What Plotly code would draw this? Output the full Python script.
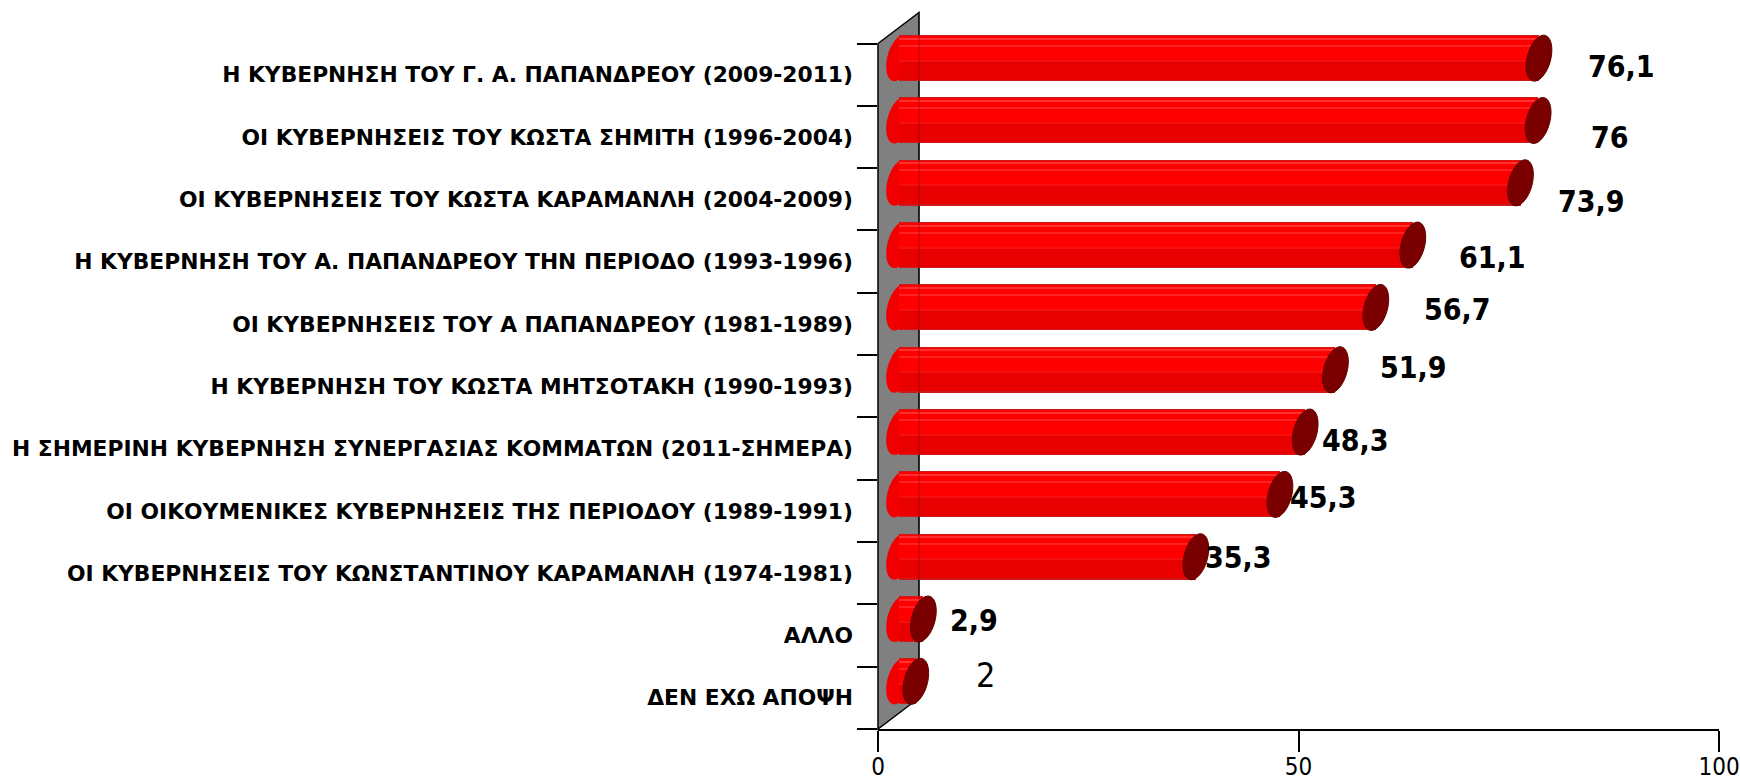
import numpy as np
import plotly.graph_objects as go

# ---------------- data ----------------
categories = [
    "Η ΚΥΒΕΡΝΗΣΗ ΤΟΥ Γ. Α. ΠΑΠΑΝΔΡΕΟΥ (2009-2011)",
    "ΟΙ ΚΥΒΕΡΝΗΣΕΙΣ ΤΟΥ ΚΩΣΤΑ ΣΗΜΙΤΗ (1996-2004)",
    "ΟΙ ΚΥΒΕΡΝΗΣΕΙΣ ΤΟΥ ΚΩΣΤΑ ΚΑΡΑΜΑΝΛΗ (2004-2009)",
    "Η ΚΥΒΕΡΝΗΣΗ ΤΟΥ Α. ΠΑΠΑΝΔΡΕΟΥ ΤΗΝ ΠΕΡΙΟΔΟ (1993-1996)",
    "ΟΙ ΚΥΒΕΡΝΗΣΕΙΣ ΤΟΥ Α ΠΑΠΑΝΔΡΕΟΥ (1981-1989)",
    "Η ΚΥΒΕΡΝΗΣΗ ΤΟΥ ΚΩΣΤΑ ΜΗΤΣΟΤΑΚΗ (1990-1993)",
    "Η ΣΗΜΕΡΙΝΗ ΚΥΒΕΡΝΗΣΗ ΣΥΝΕΡΓΑΣΙΑΣ ΚΟΜΜΑΤΩΝ (2011-ΣΗΜΕΡΑ)",
    "ΟΙ ΟΙΚΟΥΜΕΝΙΚΕΣ ΚΥΒΕΡΝΗΣΕΙΣ ΤΗΣ ΠΕΡΙΟΔΟΥ (1989-1991)",
    "ΟΙ ΚΥΒΕΡΝΗΣΕΙΣ ΤΟΥ ΚΩΝΣΤΑΝΤΙΝΟΥ ΚΑΡΑΜΑΝΛΗ (1974-1981)",
    "ΑΛΛΟ",
    "ΔΕΝ ΕΧΩ ΑΠΟΨΗ",
]
values = [76.1, 76, 73.9, 61.1, 56.7, 51.9, 48.3, 45.3, 35.3, 2.9, 2]
x_ticks = [0, 50, 100]

# ---------------- label styling (pixel offsets from bar value) ----------------
label_xshift = [103, 93, 92, 101, 103, 99, 71, 65, 64, 72, 91]
label_yshift = [8, -1, -2, 4, 14, 19, 8, 13, 16, 15, 23]
label_bold = [True] * 10 + [False]

# ---------------- geometry ----------------
W, H = 1740, 781
L, R, T, B = 878, 21, 10, 52
PW, PH = W - L - R, H - T - B
CAT_TOP_PX = 43.5
N = len(categories)
XU = PW / 100.0                          # px per x unit
YU = (H - B - CAT_TOP_PX) / N            # px per category
Y_RANGE = [-0.5, -0.5 + PH / YU]
WALL_DX, WALL_DY = 41, 31
BAR_DX, BAR_DY = 21, 16.5
BAR_HALF = 23

ypos = [N - 1 - k for k in range(N)]
base_u = BAR_DX / XU

def fmt(v):
    return f"{v:g}".replace(".", ",")

def px2paper_x(px):
    return (px - L) / PW

def px2paper_y(py):
    return (H - B - py) / PH

fig = go.Figure()

# bar body layers (lo, hi px relative to bar centre, colour)
layers = [
    (-23, 23, "#CC1A1A"),
    (-21.5, 22, "#E80000"),
    (-3, 22, "#FF0000"),
    (19, 20, "#FF3030"),
    (12, 13, "#FF2222"),
    (-3, -2, "#F21010"),
]
for lo, hi, col in layers:
    fig.add_trace(go.Bar(
        orientation="h", y=ypos, x=values, base=base_u,
        width=(hi - lo) / YU, offset=(BAR_DY + lo) / YU,
        marker=dict(color=col, line=dict(width=0)),
        hoverinfo="skip", showlegend=False,
    ))

def ellipse_path(cx, cy, a=12, b=BAR_HALF, s=0.2, n=48):
    t = np.linspace(0, 2 * np.pi, n, endpoint=False)
    dx = a * np.cos(t) + s * b * np.sin(t)
    dy = b * np.sin(t)
    xs = cx + dx / XU
    ys = cy + dy / YU
    d = "M" + " L".join(f"{x:.4f},{y:.4f}" for x, y in zip(xs, ys)) + " Z"
    return d

shapes = []
# back wall
wall = (f"M{px2paper_x(L)},{px2paper_y(H - B)} "
        f"L{px2paper_x(L)},{px2paper_y(CAT_TOP_PX)} "
        f"L{px2paper_x(L + WALL_DX)},{px2paper_y(CAT_TOP_PX - WALL_DY)} "
        f"L{px2paper_x(L + WALL_DX)},{px2paper_y(H - B - WALL_DY)} Z")
shapes.append(dict(type="path", xref="paper", yref="paper", path=wall,
                   fillcolor="#808080", line=dict(color="black", width=1.5),
                   layer="below"))
# left ends of cylinders
for yv in ypos:
    shapes.append(dict(type="path", xref="x", yref="y",
                       path=ellipse_path(base_u, yv + BAR_DY / YU),
                       fillcolor="#F20000", line=dict(width=0), layer="below"))
# wall edge seen through bars
shapes.append(dict(type="line", xref="paper", yref="paper",
                   x0=px2paper_x(L + WALL_DX), x1=px2paper_x(L + WALL_DX),
                   y0=px2paper_y(CAT_TOP_PX - WALL_DY), y1=px2paper_y(H - B - WALL_DY),
                   line=dict(color="black", width=1), opacity=0.35))
# right caps
for yv, v in zip(ypos, values):
    shapes.append(dict(type="path", xref="x", yref="y",
                       path=ellipse_path(base_u + v, yv + BAR_DY / YU),
                       fillcolor="#7A0000", line=dict(color="#600000", width=1)))

annotations = []
for yv, v, xs, ys, bold in zip(ypos, values, label_xshift, label_yshift, label_bold):
    annotations.append(dict(
        x=v, y=yv, xref="x", yref="y", text=fmt(v), showarrow=False,
        xanchor="center", yanchor="middle", xshift=xs, yshift=ys,
        font=dict(family="DejaVu Sans Condensed", size=30 if bold else 34,
                  color="black", weight="bold" if bold else "normal"),
    ))

fig.update_layout(
    width=W, height=H, autosize=False,
    margin=dict(l=L, r=R, t=T, b=B, pad=0, autoexpand=False),
    paper_bgcolor="white", plot_bgcolor="white",
    barmode="overlay", bargap=0,
    shapes=shapes, annotations=annotations,
    showlegend=False,
    xaxis=dict(range=[0, 100], tickmode="array", tickvals=x_ticks,
               ticktext=[str(t) for t in x_ticks], automargin=False,
               showgrid=False, zeroline=False, showline=True,
               linecolor="black", linewidth=1.5,
               ticks="outside", ticklen=21, tickwidth=1.5, tickcolor="black",
               ticklabeloverflow="allow", ticklabelstandoff=-6,
               tickfont=dict(family="DejaVu Sans Condensed", size=24, color="black"),
               fixedrange=True),
    yaxis=dict(range=Y_RANGE, tickmode="array", tickvals=ypos, ticktext=categories,
               automargin=False,
               showgrid=False, zeroline=False, showline=False,
               ticks="", ticklabelstandoff=24,
               tickfont=dict(family="DejaVu Sans", size=21.8, color="black", weight="bold"),
               minor=dict(tickmode="array", tickvals=[i - 0.5 for i in range(N + 1)],
                          ticks="outside", ticklen=20, tickwidth=1.5, tickcolor="black",
                          showgrid=False),
               fixedrange=True),
)

fig.write_html(
    "out.html",
    config={"responsive": False, "displayModeBar": False},
    post_script="document.body.style.margin='0px';document.body.style.padding='0px';document.body.style.overflow='hidden';",
)
